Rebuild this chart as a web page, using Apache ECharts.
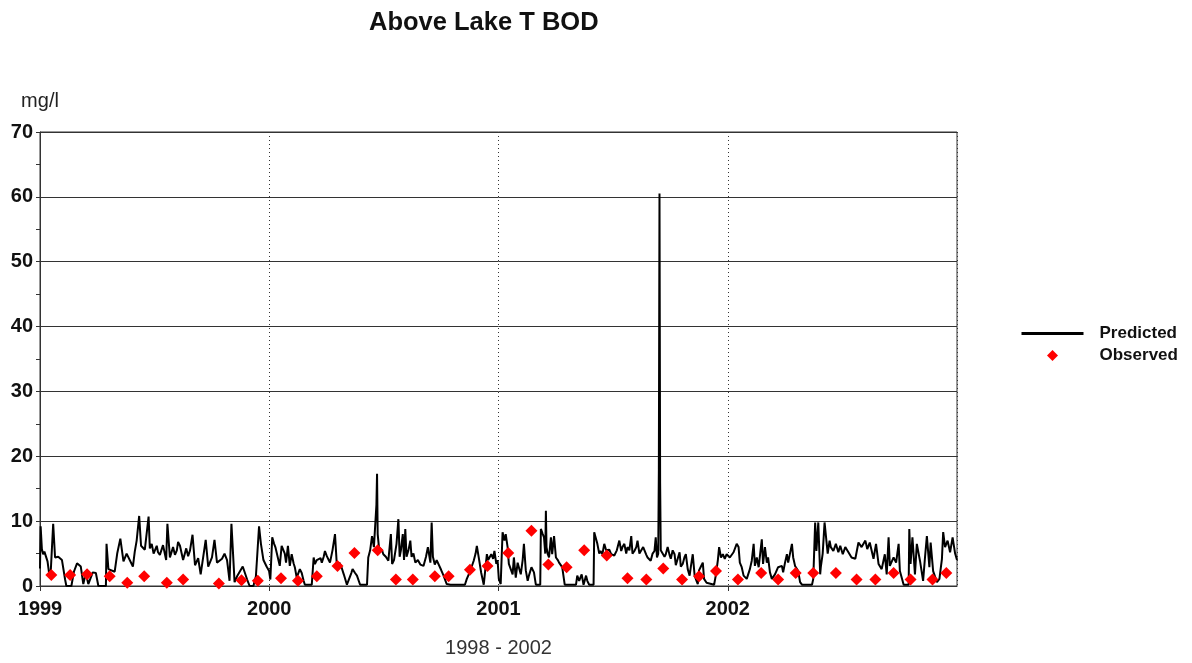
<!DOCTYPE html>
<html><head><meta charset="utf-8">
<script src="https://cdn.jsdelivr.net/npm/echarts/dist/echarts.min.js"></script>
<style>html,body{margin:0;padding:0;background:#fff}#c{width:1192px;height:663px}</style>
</head><body><div id="c"></div>
<script>
// Predicted BOD (mg/l): [day since 1999-01-01, value]
const predicted = [
[0,2.7],[1,9.2],[3,5.7],[5,4.9],[7,5.3],[10,5.0],[12,3.8],[15,1.6],[17,2.0],[21,9.6],[24,4.4],[29,4.5],[35,4.0],[40,1.0],[42,0],[50,0],[54,2.2],[59,3.5],[65,3.0],[69,0.3],[73,2.0],[77,0.3],[84,2.1],[89,2.0],[93,0],[105,0],[106,6.5],[109,2.6],[119,2.2],[123,5.0],[128,7.3],[133,3.8],[138,5.0],[148,3.0],[151,5.3],[154,7.0],[158,10.8],[161,6.2],[167,5.6],[173,10.7],[175,5.8],[178,6.5],[181,5.0],[186,6.2],[188,5.2],[191,4.8],[196,6.3],[201,4.0],[203,9.6],[207,4.4],[212,6.0],[215,4.8],[218,5.5],[220,6.8],[223,6.2],[228,4.0],[233,5.8],[236,4.6],[239,5.5],[243,7.9],[247,3.2],[252,4.3],[256,1.8],[264,7.1],[268,3.0],[274,4.4],[278,7.1],[282,3.6],[290,4.2],[294,5.0],[298,4.0],[302,0.8],[305,9.6],[310,0.6],[314,1.5],[323,3.0],[330,1.0],[334,0],[340,0],[344,1.5],[349,9.2],[352,6.5],[356,4.0],[361,3.0],
[365,2.3],[367,1.0],[370,7.5],[373,6.5],[375,6.0],[378,6.2],[382,3.1],[385,6.2],[388,6.0],[390,5.0],[392,3.6],[395,6.2],[398,3.1],[401,4.9],[404,3.5],[406,2.9],[409,1.3],[414,2.6],[417,2.0],[420,0.8],[422,0.2],[433,0.2],[436,4.4],[438,3.4],[441,4.0],[444,3.9],[447,4.3],[449,3.6],[452,4.5],[454,5.4],[457,4.6],[460,4.0],[462,3.6],[466,5.5],[470,8.0],[473,3.1],[477,3.6],[480,3.0],[484,1.8],[489,0.2],[492,0.4],[496,2.0],[498,2.6],[502,2.0],[505,1.6],[510,0.2],[521,0.2],[523,4.4],[526,5.5],[529,7.7],[532,6.0],[534,6.0],[536,12.5],[537,17.3],[538,8.0],[540,6.0],[542,6.0],[545,5.5],[547,4.9],[551,4.5],[555,3.9],[558,4.2],[559,8.0],[561,3.4],[564,4.0],[566,3.9],[568,6.5],[571,10.3],[573,4.5],[575,5.5],[578,8.0],[580,4.0],[582,8.8],[584,4.5],[587,5.5],[590,7.0],[592,4.5],[595,5.0],[598,3.6],[602,4.0],[606,3.3],[611,3.1],[615,4.5],[618,6.0],[622,3.6],[624,9.8],[626,4.5],[629,3.3],[632,4.0],[635,4.2],[639,2.5],[643,1.6],[648,0.3],[654,0.2],[677,0.2],[680,1.1],[685,2.2],[691,3.9],[694,5.0],[696,6.2],[699,4.4],[703,2.0],[707,0.2],[710,0.5],[712,4.9],[714,4.0],[716,3.9],[719,4.9],[722,4.2],[724,5.4],
[727,3.4],[729,4.0],[731,1.1],[734,0.3],[737,8.3],[740,7.0],[742,8.0],[745,6.0],[747,3.4],[750,3.6],[753,1.8],[755,4.4],[758,1.3],[761,3.6],[764,2.5],[766,1.8],[769,4.0],[771,6.5],[774,2.4],[777,0.8],[779,1.6],[783,2.9],[787,2.1],[790,0.2],[797,0.2],[798,8.8],[801,8.0],[803,7.5],[805,5.0],[806,11.6],[807,6.0],[809,4.9],[811,4.4],[814,7.5],[816,4.9],[819,7.7],[822,4.4],[825,4.0],[827,3.6],[832,2.9],[836,0.2],[854,0.2],[856,1.6],[859,0.8],[863,1.8],[866,0.2],[870,1.6],[872,0.8],[875,0.2],[882,0.2],[883,8.3],[886,8.5],[888,6.5],[891,5.0],[893,5.4],[896,4.9],[899,6.5],[902,5.5],[904,5.2],[907,5.6],[910,4.9],[913,5.2],[915,4.7],[919,5.5],[923,7.0],[926,5.4],[928,6.0],[931,6.5],[934,5.0],[936,6.0],[939,5.5],[942,7.7],[944,5.0],[947,5.4],[950,6.0],[952,7.0],[955,5.0],[958,5.5],[961,6.0],[963,6.0],[966,4.8],[968,4.4],[971,4.2],[973,3.9],[976,5.0],[979,5.4],[981,7.5],[983,4.4],[985,5.0],[986,18.0],[987,60.5],[988,16.0],[989,5.5],[992,5.4],[995,4.5],[997,4.9],[1000,6.0],[1003,4.8],[1005,4.2],[1008,5.5],[1011,4.9],[1013,3.2],[1016,3.1],[1019,5.2],[1021,3.0],[1024,3.4],[1027,4.5],[1029,4.9],[1032,2.6],[1035,1.6],[1037,3.0],[1040,4.9],[1043,1.6],[1046,0.8],[1048,0.3],[1050,2.4],[1053,3.0],[1056,3.6],[1058,1.1],[1062,0.5],[1064,0.2],[1074,0.2],[1077,1.8],[1080,4.0],[1082,6.0],[1085,4.4],[1088,4.9],[1091,4.2],
[1094,4.9],[1099,4.4],[1105,5.2],[1110,6.5],[1113,6.0],[1115,3.6],[1118,2.9],[1121,1.6],[1126,1.1],[1131,2.6],[1134,3.9],[1137,6.5],[1139,3.1],[1142,4.4],[1145,2.9],[1150,7.2],[1152,3.4],[1155,6.0],[1158,3.6],[1160,4.4],[1163,2.1],[1166,1.1],[1171,1.8],[1176,2.9],[1182,3.1],[1184,2.1],[1187,3.6],[1190,4.9],[1192,3.6],[1198,6.5],[1200,4.4],[1203,3.1],[1208,2.3],[1211,0.6],[1214,0.2],[1230,0.2],[1232,1.1],[1235,9.8],[1237,5.4],[1240,9.8],[1243,1.8],[1244,2.9],[1247,5.0],[1250,9.8],[1252,9.5],[1255,5.0],[1258,7.0],[1260,6.0],[1264,5.4],[1268,6.5],[1272,5.2],[1275,6.2],[1279,4.9],[1283,6.0],[1288,5.2],[1293,4.4],[1299,4.2],[1304,6.7],[1309,6.0],[1315,7.0],[1318,5.7],[1322,6.7],[1328,4.2],[1332,6.5],[1336,3.4],[1341,2.6],[1346,4.9],[1349,1.8],[1352,7.5],[1354,3.1],[1360,4.4],[1364,3.6],[1368,6.5],[1370,2.3],[1376,0.2],[1384,0.2],[1385,8.8],[1387,3.4],[1390,7.5],[1394,1.8],[1397,6.5],[1402,3.9],[1407,0.8],[1410,4.4],[1413,7.7],[1417,2.9],[1419,6.7],[1423,2.3],[1429,0.6],[1433,1.1],[1437,4.2],[1439,8.3],[1442,6.0],[1446,7.0],[1450,5.2],[1454,7.5],[1458,5.0],[1461,4.0]
];

// Observed BOD samples
const obsDates = ['1999-01-19','1999-02-18','1999-03-17','1999-04-22','1999-05-20','1999-06-16','1999-07-22','1999-08-17','1999-10-13','1999-11-18','1999-12-14',
'2000-01-20','2000-02-16','2000-03-17','2000-04-19','2000-05-16','2000-06-22','2000-07-21','2000-08-17','2000-09-21','2000-10-13','2000-11-16','2000-12-14',
'2001-01-16','2001-02-22','2001-03-21','2001-04-19','2001-05-17','2001-06-22','2001-07-25','2001-08-24','2001-09-20','2001-10-20','2001-11-16','2001-12-13',
'2002-01-17','2002-02-23','2002-03-22','2002-04-19','2002-05-17','2002-06-22','2002-07-25','2002-08-24','2002-09-22','2002-10-19','2002-11-23','2002-12-15'];
const obsValues = [1.7,1.7,1.8,1.5,0.5,1.5,0.5,1.0,0.4,0.9,0.8,
1.2,0.8,1.5,3.1,5.1,5.5,1.0,1.0,1.5,1.5,2.5,3.1,
5.1,8.5,3.3,2.9,5.5,4.7,1.2,1.0,2.7,1.0,1.5,2.3,
1.0,2.0,1.0,2.0,2.0,2.0,1.0,1.0,2.0,1.0,1.0,2.0];

const startYear = 1999;
const endYear = 2003;
const yTicks = {min: 0, max: 70, step: 10};
const seriesNames = ['Predicted', 'Observed'];

const t0 = Date.UTC(startYear, 0, 1);
const dayOf = s => { const p = s.split('-').map(Number); return (Date.UTC(p[0], p[1]-1, p[2]) - t0) / 86400000; };
const totalDays = (Date.UTC(endYear, 0, 1) - t0) / 86400000;
const yearLen = totalDays / (endYear - startYear);
const observed = obsDates.map((d, i) => [dayOf(d), obsValues[i]]);

const FONT = '"Liberation Sans", Arial, sans-serif';
const chart = echarts.init(document.getElementById('c'), null, {renderer: 'canvas'});
chart.setOption({
  animation: false,
  backgroundColor: '#fff',
  textStyle: {fontFamily: FONT},
  title: {text: 'Above Lake T BOD', left: 364, top: 5,
    textStyle: {fontFamily: FONT, fontWeight: 'bold', fontSize: 25.5, color: '#111'}},
  grid: {left: 40, right: 235, top: 132, bottom: 76, show: true, borderColor: '#333', borderWidth: 1},
  legend: {orient: 'vertical', left: 1015, top: 320, itemWidth: 62, itemHeight: 11, itemGap: 5,
    symbolKeepAspect: true,
    textStyle: {fontFamily: FONT, fontWeight: 'bold', fontSize: 17, color: '#111', padding: [0, 0, 0, 11]},
    data: [
      {name: seriesNames[0], itemStyle: {opacity: 0}, lineStyle: {width: 3, color: '#000'}},
      {name: seriesNames[1], icon: 'path://M5,0 L10,5 L5,10 L0,5 Z', itemStyle: {color: '#ff0000', opacity: 1}}
    ]},
  xAxis: {type: 'value', min: 0, max: totalDays, interval: yearLen,
    name: '1998 - 2002', nameLocation: 'middle', nameGap: 52,
    nameTextStyle: {fontFamily: FONT, fontSize: 20, color: '#333'},
    axisLine: {show: true, lineStyle: {color: '#333'}},
    axisTick: {show: true, length: 5, lineStyle: {color: '#333'}},
    axisLabel: {fontFamily: FONT, fontWeight: 'bold', fontSize: 20, color: '#111', margin: 13,
      showMaxLabel: false, formatter: v => String(startYear + Math.round(v / yearLen))},
    splitLine: {show: true, lineStyle: {type: [1, 3], color: '#333', width: 1}}},
  yAxis: {type: 'value', min: yTicks.min, max: yTicks.max, interval: yTicks.step,
    name: 'mg/l', nameLocation: 'end', nameGap: 21,
    nameTextStyle: {fontFamily: FONT, fontSize: 20, color: '#222'},
    axisLine: {show: true, lineStyle: {color: '#333'}},
    axisTick: {show: true, length: 4, lineStyle: {color: '#333'}},
    minorTick: {show: true, splitNumber: 2, length: 4, lineStyle: {color: '#333'}},
    axisLabel: {fontFamily: FONT, fontWeight: 'bold', fontSize: 20, color: '#111', margin: 7},
    splitLine: {show: true, lineStyle: {color: '#333', width: 1}}},
  series: [
    {type: 'line', name: seriesNames[0], data: predicted, symbol: 'none', showSymbol: false,
      lineStyle: {color: '#000', width: 2}, itemStyle: {color: '#000'}, z: 3},
    {type: 'scatter', name: seriesNames[1], data: observed, symbol: 'diamond', symbolSize: 12,
      itemStyle: {color: '#ff0000', opacity: 1}, z: 5}
  ]
});
</script></body></html>
